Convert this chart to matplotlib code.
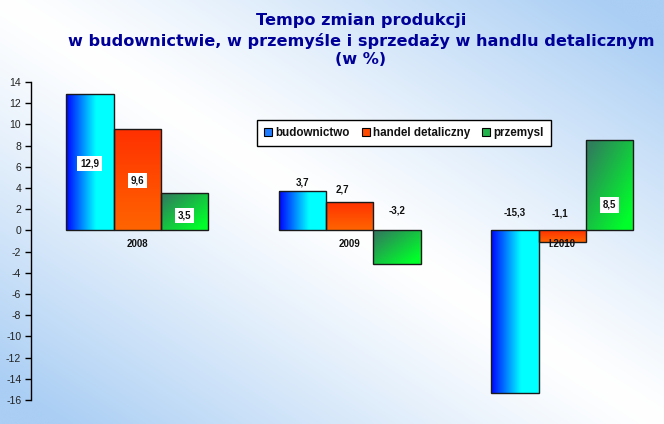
import numpy as np
import matplotlib
matplotlib.use("Agg")
import matplotlib.pyplot as plt
from matplotlib.patches import Patch
from matplotlib.colors import to_rgb

# ---- data ----
groups = ["2008", "2009", "I.2010"]
series = ["budownictwo", "handel detaliczny", "przemysl"]
budownictwo = [12.9, 3.7, -15.3]
handel = [9.6, 2.7, -1.1]
przemysl = [3.5, -3.2, 8.5]
value_text = {
    "budownictwo": ["12,9", "3,7", "-15,3"],
    "handel detaliczny": ["9,6", "2,7", "-1,1"],
    "przemysl": ["3,5", "-3,2", "8,5"],
}
yticks = list(range(-16, 15, 2))
title_lines = ["Tempo zmian produkcji",
               "w budownictwie, w przemyśle i sprzedaży w handlu detalicznym",
               "(w %)"]

FONT = "Liberation Sans"
plt.rcParams["font.family"] = [FONT, "DejaVu Sans"]

W, H = 664, 424
fig = plt.figure(figsize=(W / 100, H / 100), dpi=100)

# background gradient: white along main diagonal, light blue at TR / BL corners
bg = fig.add_axes([0, 0, 1, 1], zorder=-5)
bg.set_axis_off()
xx, yy = np.meshgrid(np.linspace(0, 1, 200), np.linspace(0, 1, 200))
t = np.clip(np.abs(xx - yy) * 1.1, 0, 1) ** 1.2
white = np.array(to_rgb("#ffffff"))
blue = np.array(to_rgb("#aacef4"))
img = white[None, None, :] * (1 - t[..., None]) + blue[None, None, :] * t[..., None]
bg.imshow(img, extent=[0, 1, 0, 1], aspect="auto", origin="upper")
bg.set_xlim(0, 1)
bg.set_ylim(0, 1)

ax = fig.add_axes([31 / W, (H - 400) / H, (W - 31) / W, (400 - 82) / H])
ax.set_facecolor("none")

x = np.arange(len(groups))
bw = 0.2235
data = [budownictwo, handel, przemysl]
offsets = [-bw, 0, bw]


def lerp(c1, c2, n):
    a = np.array(to_rgb(c1)); b = np.array(to_rgb(c2))
    s = np.linspace(0, 1, n)[:, None]
    return a * (1 - s) + b * s


N = 64
s = np.linspace(0, 1, N)
# blue: horizontal blue -> cyan
sb = np.clip((s - 0.03) / 0.6, 0, 1)
blue_img = (np.array(to_rgb("#0010ff"))[None, :] * (1 - sb[:, None])
            + np.array(to_rgb("#00ffff"))[None, :] * sb[:, None])[None, :, :]
# orange: vertical, top red-orange -> bottom orange
orange_img = lerp("#ff3000", "#ff6400", N)[:, None, :]
# green: diagonal dark (top-left) -> bright (bottom-right)
gx, gy = np.meshgrid(s, s)
gt = np.clip((gx + gy) / 2 * 1.25 - 0.1, 0, 1)
g1 = np.array(to_rgb("#2f7f5c")); g2 = np.array(to_rgb("#00ff2a"))
green_img = g1[None, None, :] * (1 - gt[..., None]) + g2[None, None, :] * gt[..., None]
imgs = [blue_img, orange_img, green_img]

for vals, off, im in zip(data, offsets, imgs):
    bars = ax.bar(x + off, vals, width=bw, facecolor="none",
                  edgecolor="#1a1a1a", linewidth=1.0, zorder=3)
    for p in bars:
        x0, y0 = p.get_x(), p.get_y()
        x1, y1 = x0 + p.get_width(), y0 + p.get_height()
        ext = [x0, x1, min(y0, y1), max(y0, y1)]
        ii = ax.imshow(im, extent=ext, aspect="auto", origin="upper",
                       interpolation="bilinear", zorder=2)
        ii.set_clip_path(p)

# value labels
label_y = [
    [6.3, 4.55, 1.7],
    [4.7, 3.9, 1.6],
    [1.4, 1.9, 2.4],
]
label_dx = [
    [0, 0, 0],
    [0, -0.035, -0.01],
    [0, 0, 0],
]
boxed = [
    [True, False, False],
    [True, False, False],
    [True, False, True],
]
for si, (name, off) in enumerate(zip(series, offsets)):
    for gi in range(len(groups)):
        kw = {}
        if boxed[si][gi]:
            kw["bbox"] = dict(facecolor="white", edgecolor="none", pad=2.0)
        ax.text(x[gi] + off + label_dx[si][gi], label_y[si][gi],
                value_text[name][gi],
                ha="center", va="center", fontsize=7, fontweight="bold",
                color="#111111", zorder=5, **kw)

# category labels
for gi, g in enumerate(groups):
    ax.text(x[gi], -1.25, g, ha="center", va="center", fontsize=7,
            fontweight="bold", color="#111111", zorder=5)

ax.set_xlim(-0.5, -0.5 + (W - 31) / 212.5)
ax.set_ylim(-16, 14)
ax.set_yticks(yticks)
ax.set_yticklabels([str(v) for v in yticks])
ax.set_xticks([])
for sp in ["top", "right", "bottom"]:
    ax.spines[sp].set_visible(False)
ax.spines["left"].set_color("black")
ax.spines["left"].set_linewidth(1.0)
ax.tick_params(axis="y", direction="out", length=4, width=1, labelsize=7.5,
               colors="black", labelcolor="#222222", pad=3)

# legend
handles = [Patch(facecolor="#1f7cff", edgecolor="black", linewidth=0.8),
           Patch(facecolor="#ff4a00", edgecolor="black", linewidth=0.8),
           Patch(facecolor="#22b24c", edgecolor="black", linewidth=0.8)]
leg = fig.legend(handles, series, loc="center", ncol=3,
                 bbox_to_anchor=(404 / W, (H - 133) / H),
                 frameon=True, fancybox=False, edgecolor="black",
                 framealpha=1.0, facecolor="white",
                 prop={"family": FONT, "weight": "bold", "size": 8.4},
                 handlelength=0.7, handleheight=0.7, handletextpad=0.3,
                 columnspacing=1.0, borderpad=0.6, borderaxespad=0)
leg.get_frame().set_linewidth(1.0)
for txt in leg.get_texts():
    txt.set_color("#111111")

# title
for yy_px, line in zip([20, 41, 60], title_lines):
    fig.text(361 / W, (H - yy_px) / H, line, ha="center", va="center",
             fontsize=11.6, fontweight="bold", color="#000099",
             family=["DejaVu Sans"])

fig.savefig("out.png", dpi=100)
